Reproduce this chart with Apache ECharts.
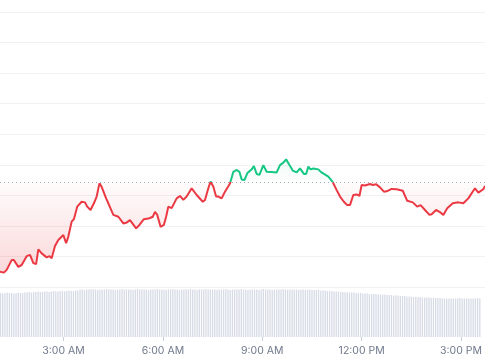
<!DOCTYPE html>
<html><head><meta charset="utf-8">
<script src="https://cdn.jsdelivr.net/npm/echarts@6/dist/echarts.min.js"></script>
<style>html,body{margin:0;padding:0;background:#fff}#c{width:485px;height:360px}</style>
</head><body><div id="c"></div>
<script>
// minutes since midnight
const priceTimes = [65,72,77,86,90,98,104,113,119,125,130,134,140,149,154,158,164,170,179,184,188,194,198,204,212,218,222,228,234,239,244,248,256,260,269,278,287,292,299,310,316,324,334,340,344,348,354,360,364,368,374,383,389,395,401,410,419,430,434,440,444,449,454,458,464,470,479,485,491,496,500,505,510,518,522,527,532,539,545,554,563,569,575,580,586,592,599,605,612,616,620,624,629,638,643,656,664,671,677,684,690,695,701,707,712,716,722,725,731,736,742,749,756,761,770,779,790,798,808,816,822,830,838,842,850,856,863,870,880,890,899,908,920,926,935,938];
const priceValues = [5.0,4.7,5.6,8.8,8.8,6.6,7.2,10.1,10.5,7.8,7.5,12.3,11.0,9.7,10.1,9.4,13.4,15.4,17.0,14.3,16.5,21.4,22.2,26.3,27.9,27.7,26.3,25.2,27.4,29.6,33.9,32.8,29.0,27.4,23.6,23.0,20.8,21.0,21.9,19.2,20.3,22.2,22.5,23.0,24.6,23.6,19.7,20.3,23.0,26.3,25.8,29.0,29.8,28.5,29.6,32.3,30.1,27.9,28.5,32.3,34.5,32.8,29.6,29.6,29.0,31.2,33.9,37.7,38.3,37.7,35.2,35.0,37.2,38.5,39.6,37.0,36.7,39.9,37.7,37.6,37.5,39.9,40.7,41.8,39.9,38.1,37.5,38.8,37.0,37.0,39.4,38.5,38.8,38.5,37.6,36.1,34.3,31.7,29.6,27.9,26.8,26.8,30.1,30.3,29.8,33.4,33.2,33.4,33.7,33.4,33.6,32.6,31.2,31.3,32.1,32.0,31.5,28.2,27.7,26.3,26.8,25.2,23.6,23.8,25.2,24.6,23.6,25.8,27.4,27.7,27.4,29.0,32.3,30.9,32.0,33.1];
const baseline = 34.27;
const volumeStart = 66, volumeStep = 4;
const volumeValues = [
88,87,88,89,88,88,87,88,89,88,88,89,
89,90,89,90,90,91,90,90,91,91,90,91,92,91,91,92,92,91,92,93,92,92,93,93,
95,95,94,95,95,96,95,95,94,95,95,95,96,95,95,95,94,95,95,96,95,95,95,95,94,95,96,95,95,95,
95,94,95,95,95,96,95,95,95,94,95,95,96,95,95,94,95,95,95,95,96,95,95,94,95,95,95,96,95,95,
95,95,94,95,95,95,96,95,94,95,95,95,95,96,95,95,94,95,95,95,95,94,95,96,95,95,95,94,95,95,
95,95,96,95,94,95,95,95,95,94,95,95,94,95,95,94,94,94,
94,93,93,93,92,92,92,91,91,91,90,90,90,89,89,
89,89,88,88,88,87,87,87,86,86,86,86,85,85,85,
85,84,84,84,83,83,83,82,82,82,81,81,81,80,80,
80,80,79,79,79,79,78,78,78,78,78,77,77,77,77,
77,77,77,77,78,77,77,77,77,77,77,77,78,77];
const tickTimes = [180,360,540,720,900];
const tickLabels = ['3:00 AM','6:00 AM','9:00 AM','12:00 PM','3:00 PM'];
const RED = '#ea3943', GREEN = '#16c784';

const chart = echarts.init(document.getElementById('c'), null, {renderer:'canvas'});
const linePairs = priceTimes.map((t,i)=>[t, priceValues[i]]);
const volPairs = volumeValues.map((v,i)=>[volumeStart + i*volumeStep, v]);
const tMin = priceTimes[0], tMax = priceTimes[priceTimes.length-1];

const option = {
  animation:false,
  grid:[
    {left:0,right:0,top:12,bottom:73},
    {left:0,right:0,top:287,bottom:23}
  ],
  xAxis:[
    {type:'value',gridIndex:0,min:tMin,max:tMax,show:false,splitLine:{show:false}},
    {type:'value',gridIndex:1,min:tMin,max:tMax,
     axisLine:{show:false},
     splitLine:{show:false},
     axisTick:{show:true,customValues:tickTimes,length:4,lineStyle:{color:'#c7ccd6'}},
     axisLabel:{customValues:tickTimes,margin:8,color:'#707a8c',fontSize:10.5,fontFamily:'Inter, Roboto, sans-serif',
       formatter:(v)=>{const k=tickTimes.indexOf(v);return k>=0?tickLabels[k]:'';}}}
  ],
  yAxis:[
    {type:'value',gridIndex:0,min:0,max:90,interval:10,
     axisLabel:{show:false},axisLine:{show:false},axisTick:{show:false},
     splitLine:{show:true,lineStyle:{color:'#f1f1f1',width:1}}},
    {type:'value',gridIndex:1,min:0,max:100,show:false,splitLine:{show:false}}
  ],
  series:[
    {type:'line',xAxisIndex:0,yAxisIndex:0,data:linePairs,symbol:'none',smooth:false,
     lineStyle:{width:2,color:RED},
     markLine:{silent:true,symbol:['none','none'],label:{show:false},
       lineStyle:{type:[1,3],color:'#a3a9b5',width:1},
       data:[{yAxis:baseline}]}},
    {type:'bar',xAxisIndex:1,yAxisIndex:1,data:volPairs,barWidth:1.3,
     itemStyle:{color:'#d6dbe5'}}
  ]
};
chart.setOption(option);

const yTop = chart.convertToPixel({yAxisIndex:0}, 45);
const yBase = chart.convertToPixel({yAxisIndex:0}, baseline);
const yBot = chart.convertToPixel({yAxisIndex:0}, 0);
const off = (yBase - yTop)/(yBot - yTop);
chart.setOption({series:[{
  lineStyle:{width:2,color:{type:'linear',global:true,x:0,y:yTop,x2:0,y2:yBot,
    colorStops:[{offset:0,color:GREEN},{offset:off,color:GREEN},{offset:off,color:RED},{offset:1,color:RED}]}},
  areaStyle:{origin:baseline,color:{
  type:'linear',global:true,x:0,y:yTop,x2:0,y2:yBot,
  colorStops:[
    {offset:0,color:'rgba(22,199,132,0.15)'},
    {offset:off,color:'rgba(22,199,132,0)'},
    {offset:off,color:'rgba(234,57,67,0.02)'},
    {offset:1,color:'rgba(234,57,67,0.32)'}
  ]}}}]});
</script></body></html>
